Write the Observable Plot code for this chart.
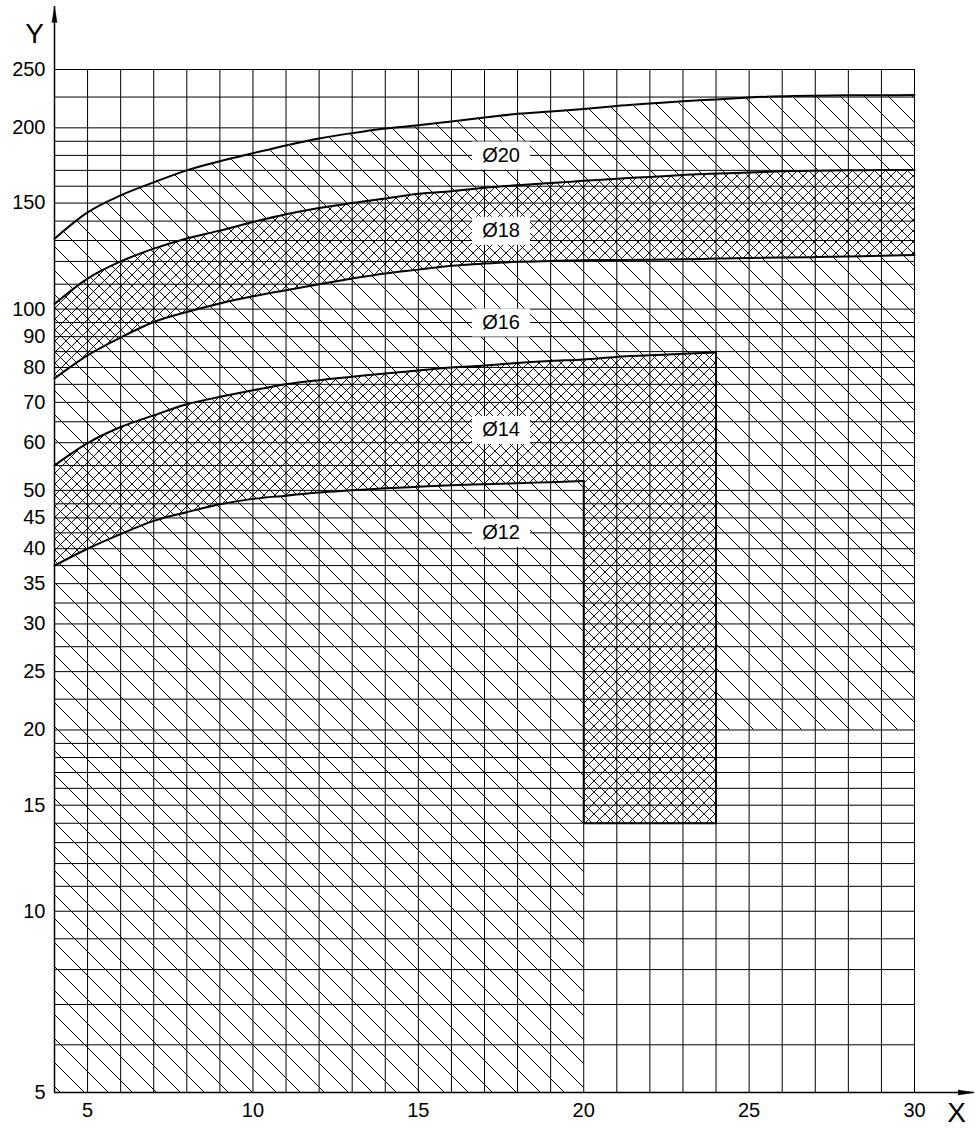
<!DOCTYPE html>
<html>
<head>
<meta charset="utf-8">
<script src="https://cdn.jsdelivr.net/npm/d3@7"></script>
<script src="https://cdn.jsdelivr.net/npm/@observablehq/plot@0.6"></script>
<style>
  body { margin: 0; background: #fff; }
  #defs { position: absolute; left: 0; top: 0; width: 0; height: 0; }
</style>
</head>
<body>
<svg id="defs" width="0" height="0">
  <defs>
    <pattern id="h1" patternUnits="userSpaceOnUse" width="24" height="24">
      <path d="M-2,-2L26,26M-2,22L2,26M22,-2L26,2" stroke="#000" stroke-width="1" fill="none"/>
    </pattern>
    <pattern id="h2" patternUnits="userSpaceOnUse" width="11" height="11">
      <path d="M-2,-2L13,13M-2,9L2,13M9,-2L13,2M-2,13L13,-2M-2,2L2,-2M9,13L13,9" stroke="#000" stroke-width="0.9" fill="none"/>
    </pattern>
  </defs>
</svg>
<div id="chart"></div>
<script>
// ---- data ----
const xFull = [4,5,6,7,8,9,10,11,12,13,14,15,16,17,18,19,20,21,22,23,24,25,26,27,28,29,30];
const c20  = [130.9,144.8,154.5,162.4,170,176,181.5,187,192,196,199.5,202,205,208,211,213,215,217.5,219.5,221.5,223,224.6,225.7,226.2,226.5,226.6,226.7];
const c18u = [102,112.4,120,126,131,135,139.5,143.7,147.2,150,152.6,155.4,157,159,160.6,162,163.3,164.6,165.8,167,168,168.6,169.4,169.8,170,170.2,170.3];
const c18l = [76.7,83.8,89.7,95.2,98.9,102.2,105,107.5,110,112.4,114.6,116.3,118,119,119.8,120.2,120.5,120.7,120.8,121,121.3,121.6,121.8,122,122.3,122.6,123];
const x24  = [4,5,6,7,8,9,10,11,12,13,14,15,16,17,18,19,20,21,22,23,24];
const c14u = [55,59.9,63.7,66.6,69.5,71.5,73.3,75,76.2,77.2,78.2,79.1,80,80.6,81.4,82,82.5,83.3,83.8,84.3,84.7];
const x20  = [4,5,6,7,8,9,10,11,12,13,14,15,16,17,18,19,20];
const c14l = [37.5,40,42.3,44.5,46,47.4,48.4,49,49.6,50,50.4,50.7,51,51.2,51.4,51.6,51.8];
const stepLevels = [14, 20]; // floor of Ø14 block (x 20–24), floor of Ø16 block (x 24–30)
const labelText = ["Ø20","Ø18","Ø16","Ø14","Ø12"];
const labelX = [17.5,17.5,17.5,17.5,17.5];
const labelY = [180,135,95,63,42.5];
const xGrid = [4,5,6,7,8,9,10,11,12,13,14,15,16,17,18,19,20,21,22,23,24,25,26,27,28,29,30];
const yGrid = [5,6,7,8,9,10,11,12,13,14,15,16,17,18,19,20,22.5,25,27.5,30,32.5,35,37.5,40,42.5,45,47.5,50,55,60,65,70,75,80,85,90,95,100,110,120,130,140,150,160,170,180,190,200,225,250];
const xTicks = [5,10,15,20,25,30];
const yTicks = [5,10,15,20,25,30,35,40,45,50,60,70,80,90,100,150,200,250];
const xDomain = [4, 30];
const yDomain = [5, 250];
const arrowTips = {x: 31.8, y: 318};

// ---- tables ----
const full = xFull.map((x, i) => ({x, c20: c20[i], c18u: c18u[i], c18l: c18l[i]}));
const left24 = x24.map((x, i) => ({x, c14u: c14u[i], c18l: c18l[i]}));
const right16 = full.filter(d => d.x >= x24[x24.length - 1]).map(d => ({x: d.x, lo: stepLevels[1], hi: d.c18l}));
const left20 = x20.map((x, i) => ({x, c14l: c14l[i], c14u: c14u[i]}));
const block14 = left24.filter(d => d.x >= x20[x20.length - 1]).map(d => ({x: d.x, lo: stepLevels[0], hi: d.c14u}));
const xa = x20[x20.length - 1], xb = x24[x24.length - 1];
const corner = [
  {x: xa, y: c14l[c14l.length - 1]},
  {x: xa, y: stepLevels[0]},
  {x: xb, y: stepLevels[0]},
  {x: xb, y: c14u[c14u.length - 1]}
];
const labels = labelText.map((t, i) => ({t, x: labelX[i], y: labelY[i]}));
const boxSymbol = {draw(ctx) { ctx.rect(-29, -14, 58, 28); }};
const curve = "monotone-x";
const font = "'Liberation Sans', Arial, sans-serif";

const chart = Plot.plot({
  width: 975,
  height: 1129,
  marginLeft: 54,
  marginRight: 61,
  marginTop: 69,
  marginBottom: 37,
  x: {domain: xDomain, axis: null},
  y: {type: "log", domain: yDomain, axis: null},
  style: {fontFamily: font, fontSize: "20px", color: "#000", background: "#fff"},
  marks: [
    // hatched regions
    Plot.areaY(full, {x: "x", y1: "c18u", y2: "c20", fill: "url(#h1)", curve}),
    Plot.areaY(full, {x: "x", y1: "c18l", y2: "c18u", fill: "url(#h2)", curve}),
    Plot.areaY(left24, {x: "x", y1: "c14u", y2: "c18l", fill: "url(#h1)", curve}),
    Plot.areaY(right16, {x: "x", y1: "lo", y2: "hi", fill: "url(#h1)", curve}),
    Plot.areaY(left20, {x: "x", y1: "c14l", y2: "c14u", fill: "url(#h2)", curve}),
    Plot.areaY(block14, {x: "x", y1: "lo", y2: "hi", fill: "url(#h2)", curve}),
    Plot.areaY(left20, {x: "x", y1: yDomain[0], y2: "c14l", fill: "url(#h1)", curve}),
    // grid
    Plot.ruleX(xGrid, {y1: yDomain[0], y2: yDomain[1], stroke: "#000", strokeWidth: 1}),
    Plot.ruleY(yGrid, {x1: xDomain[0], x2: xDomain[1], stroke: "#000", strokeWidth: 1}),
    // boundaries
    Plot.line(full, {x: "x", y: "c20", stroke: "#000", strokeWidth: 2, curve}),
    Plot.line(full, {x: "x", y: "c18u", stroke: "#000", strokeWidth: 2, curve}),
    Plot.line(full, {x: "x", y: "c18l", stroke: "#000", strokeWidth: 2, curve}),
    Plot.line(left24, {x: "x", y: "c14u", stroke: "#000", strokeWidth: 2, curve}),
    Plot.line(left20, {x: "x", y: "c14l", stroke: "#000", strokeWidth: 2, curve}),
    Plot.line(corner, {x: "x", y: "y", stroke: "#000", strokeWidth: 2}),
    // labels
    Plot.dot(labels, {x: "x", y: "y", symbol: boxSymbol, fill: "#fff", stroke: "none"}),
    Plot.text(labels, {x: "x", y: "y", text: "t", fontSize: 20, fill: "#000"}),
    // tick labels
    Plot.text(yTicks, {x: xDomain[0], y: d => d, text: d => String(d), textAnchor: "end", dx: -9, fontSize: 20, fill: "#000"}),
    Plot.text(xTicks, {x: d => d, y: yDomain[0], text: d => String(d), lineAnchor: "top", dy: 10, fontSize: 20, fill: "#000"}),
    // axis lines with arrows
    Plot.ruleX([xDomain[0]], {y1: yDomain[0], y2: arrowTips.y, stroke: "#000", strokeWidth: 1.5}),
    Plot.ruleY([yDomain[0]], {x1: xDomain[0], x2: arrowTips.x, stroke: "#000", strokeWidth: 1.5}),
    Plot.vector([{x: xDomain[0], y: arrowTips.y}], {x: "x", y: "y", rotate: 0, length: 16, r: 2.5, shape: "spike", anchor: "end", fill: "#000", stroke: "#000", strokeWidth: 0.5}),
    Plot.vector([{x: arrowTips.x, y: yDomain[0]}], {x: "x", y: "y", rotate: 90, length: 16, r: 2.5, shape: "spike", anchor: "end", fill: "#000", stroke: "#000", strokeWidth: 0.5}),
    Plot.text(["Y"], {frameAnchor: "top-left", textAnchor: "middle", lineAnchor: "middle", dx: -20, dy: -35, fontSize: 28, fill: "#000"}),
    Plot.text(["X"], {frameAnchor: "bottom-right", textAnchor: "middle", lineAnchor: "middle", dx: 42, dy: 21, fontSize: 28, fill: "#000"})
  ]
});
document.getElementById("chart").appendChild(chart);
</script>
</body>
</html>
